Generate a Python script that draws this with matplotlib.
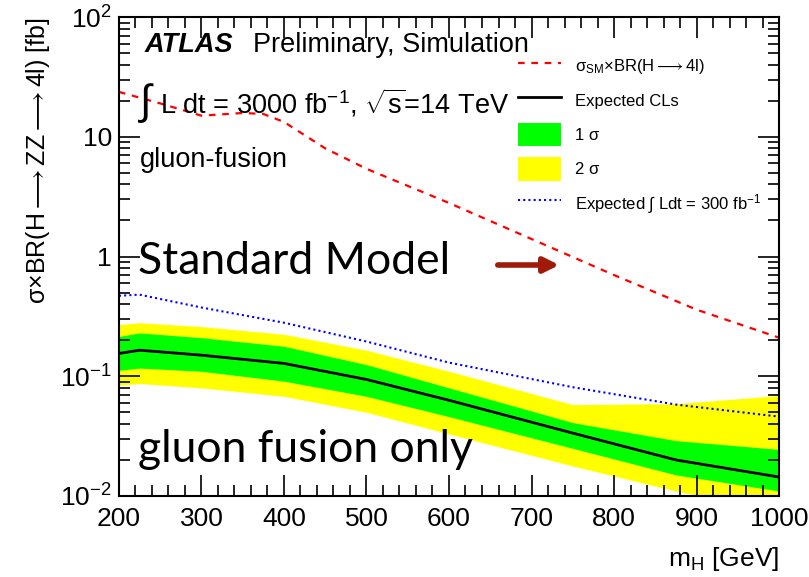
import matplotlib
matplotlib.use("Agg")
import matplotlib.pyplot as plt
from matplotlib.lines import Line2D
from matplotlib.patches import Patch
from matplotlib.ticker import MultipleLocator, LogLocator, NullFormatter

# ---- data ----
mh_sm = [200, 250, 300, 350, 375, 400, 450, 500, 600, 700, 800, 900, 1000]
sm_xsec = [23.7, 19.0, 15.0, 15.8, 15.5, 13.3, 8.0, 5.4, 2.8, 1.4, 0.70, 0.36, 0.21]

mh = [200, 225, 300, 400, 500, 600, 750, 875, 1000]
exp_cls = [0.155, 0.165, 0.150, 0.128, 0.094, 0.063, 0.0335, 0.020, 0.0144]
sig1_up = [0.215, 0.230, 0.210, 0.178, 0.125, 0.080, 0.041, 0.029, 0.0245]
sig1_dn = [0.112, 0.117, 0.110, 0.091, 0.068, 0.046, 0.025, 0.015, 0.011]
sig2_up = [0.270, 0.280, 0.260, 0.224, 0.165, 0.110, 0.058, 0.059, 0.069]
sig2_dn = [0.084, 0.087, 0.080, 0.068, 0.050, 0.033, 0.0178, 0.011, 0.0075]
exp_300 = [0.470, 0.480, 0.375, 0.280, 0.195, 0.130, 0.081, 0.058, 0.046]

plt.rcParams['font.family'] = ['Liberation Sans', 'DejaVu Sans']
plt.rcParams['mathtext.fontset'] = 'custom'
plt.rcParams['mathtext.rm'] = 'Liberation Sans'
plt.rcParams['mathtext.it'] = 'Liberation Sans:italic'

fig = plt.figure(figsize=(8.09, 5.77), dpi=100)
ax = fig.add_axes([0.147, 0.1404, 0.816, 0.8301])

ax.fill_between(mh, sig2_dn, sig2_up, color='#ffff00', lw=0)
ax.fill_between(mh, sig1_dn, sig1_up, color='#00ff00', lw=0)
ax.plot(mh, exp_cls, color='black', lw=2)
ax.plot(mh, exp_300, color='#0000ff', lw=1.5, ls=(0, (1, 1.5)))
ax.plot(mh_sm, sm_xsec, color='#ff0000', lw=1.6, ls=(0, (3, 3)))

ax.set_yscale('log')
ax.set_xlim(200, 1000)
ax.set_ylim(1e-2, 1e2)

ax.xaxis.set_major_locator(MultipleLocator(100))
ax.xaxis.set_minor_locator(MultipleLocator(20))
ax.yaxis.set_minor_locator(LogLocator(base=10, subs=range(2, 10), numticks=20))
ax.yaxis.set_minor_formatter(NullFormatter())
ax.set_yticks([1e-2, 1e-1, 1, 10, 1e2])
ax.set_yticklabels([r'$10^{-2}$', r'$10^{-1}$', '1', '10', r'$10^{2}$'])

ax.tick_params(which='both', direction='in', top=True, right=True, labelsize=19, width=1.2)
ax.tick_params(which='major', length=15)
ax.tick_params(axis='x', which='major', pad=8)
ax.tick_params(axis='y', which='major', pad=5)
ax.tick_params(which='minor', length=8)
for s in ax.spines.values():
    s.set_linewidth(1.5)

ax.set_ylabel(r'σ×BR(H$\longrightarrow$ZZ$\longrightarrow$4l) [fb]', fontsize=18, loc='top', labelpad=6)
ax.set_xlabel(r'm$_\mathregular{H}$ [GeV]', fontsize=19, loc='right', labelpad=10)

# annotations
fig.text(145/809, 1 - 45/577, 'ATLAS', fontsize=19.5, fontweight='bold', fontstyle='italic', va='center')
fig.text(253/809, 1 - 45/577, 'Preliminary, Simulation', fontsize=19.5, va='center')
fig.text(138/809, 1 - 103/577, r'$\int$', fontsize=30, va='center')
fig.text(160/809, 1 - 103/577, r'L dt = 3000 fb$^{\mathregular{-1}}$, $\sqrt{\mathregular{s}}$=14 TeV', fontsize=19.5, va='center')
fig.text(140/809, 1 - 160/577, 'gluon-fusion', fontsize=19.5, va='center')

fig.text(138/809, 1 - 262/577, 'Standard Model', fontsize=32, va='center', family='Lato')
fig.text(138/809, 1 - 450/577, 'gluon fusion only', fontsize=32, va='center', family='Lato')
ax.annotate('', xy=(562/809, 1 - 265/577), xytext=(495/809, 1 - 265/577),
            xycoords='figure fraction', textcoords='figure fraction',
            arrowprops=dict(arrowstyle='-|>', color='#a01a0a', lw=4, mutation_scale=22))

handles = [
    Line2D([], [], color='#ff0000', lw=1.6, ls=(0, (3, 3))),
    Line2D([], [], color='black', lw=2),
    Patch(facecolor='#00ff00', edgecolor='none'),
    Patch(facecolor='#ffff00', edgecolor='none'),
    Line2D([], [], color='#0000ff', lw=1.5, ls=(0, (1, 1.5))),
]
labels = [r'σ$_\mathregular{SM}$×BR(H$\longrightarrow$4l)', 'Expected CLs', '1 σ', '2 σ',
          r'Expected $\int$ Ldt = 300 fb$^{\mathregular{-1}}$']
leg = ax.legend(handles, labels, loc='upper left', bbox_to_anchor=(518/809, 1 - 54/577),
                bbox_transform=fig.transFigure, frameon=False, fontsize=12,
                handlelength=2.6, handleheight=1.8, labelspacing=0.65, handletextpad=0.8,
                borderaxespad=0, borderpad=0)

fig.savefig('out.png', dpi=100)
